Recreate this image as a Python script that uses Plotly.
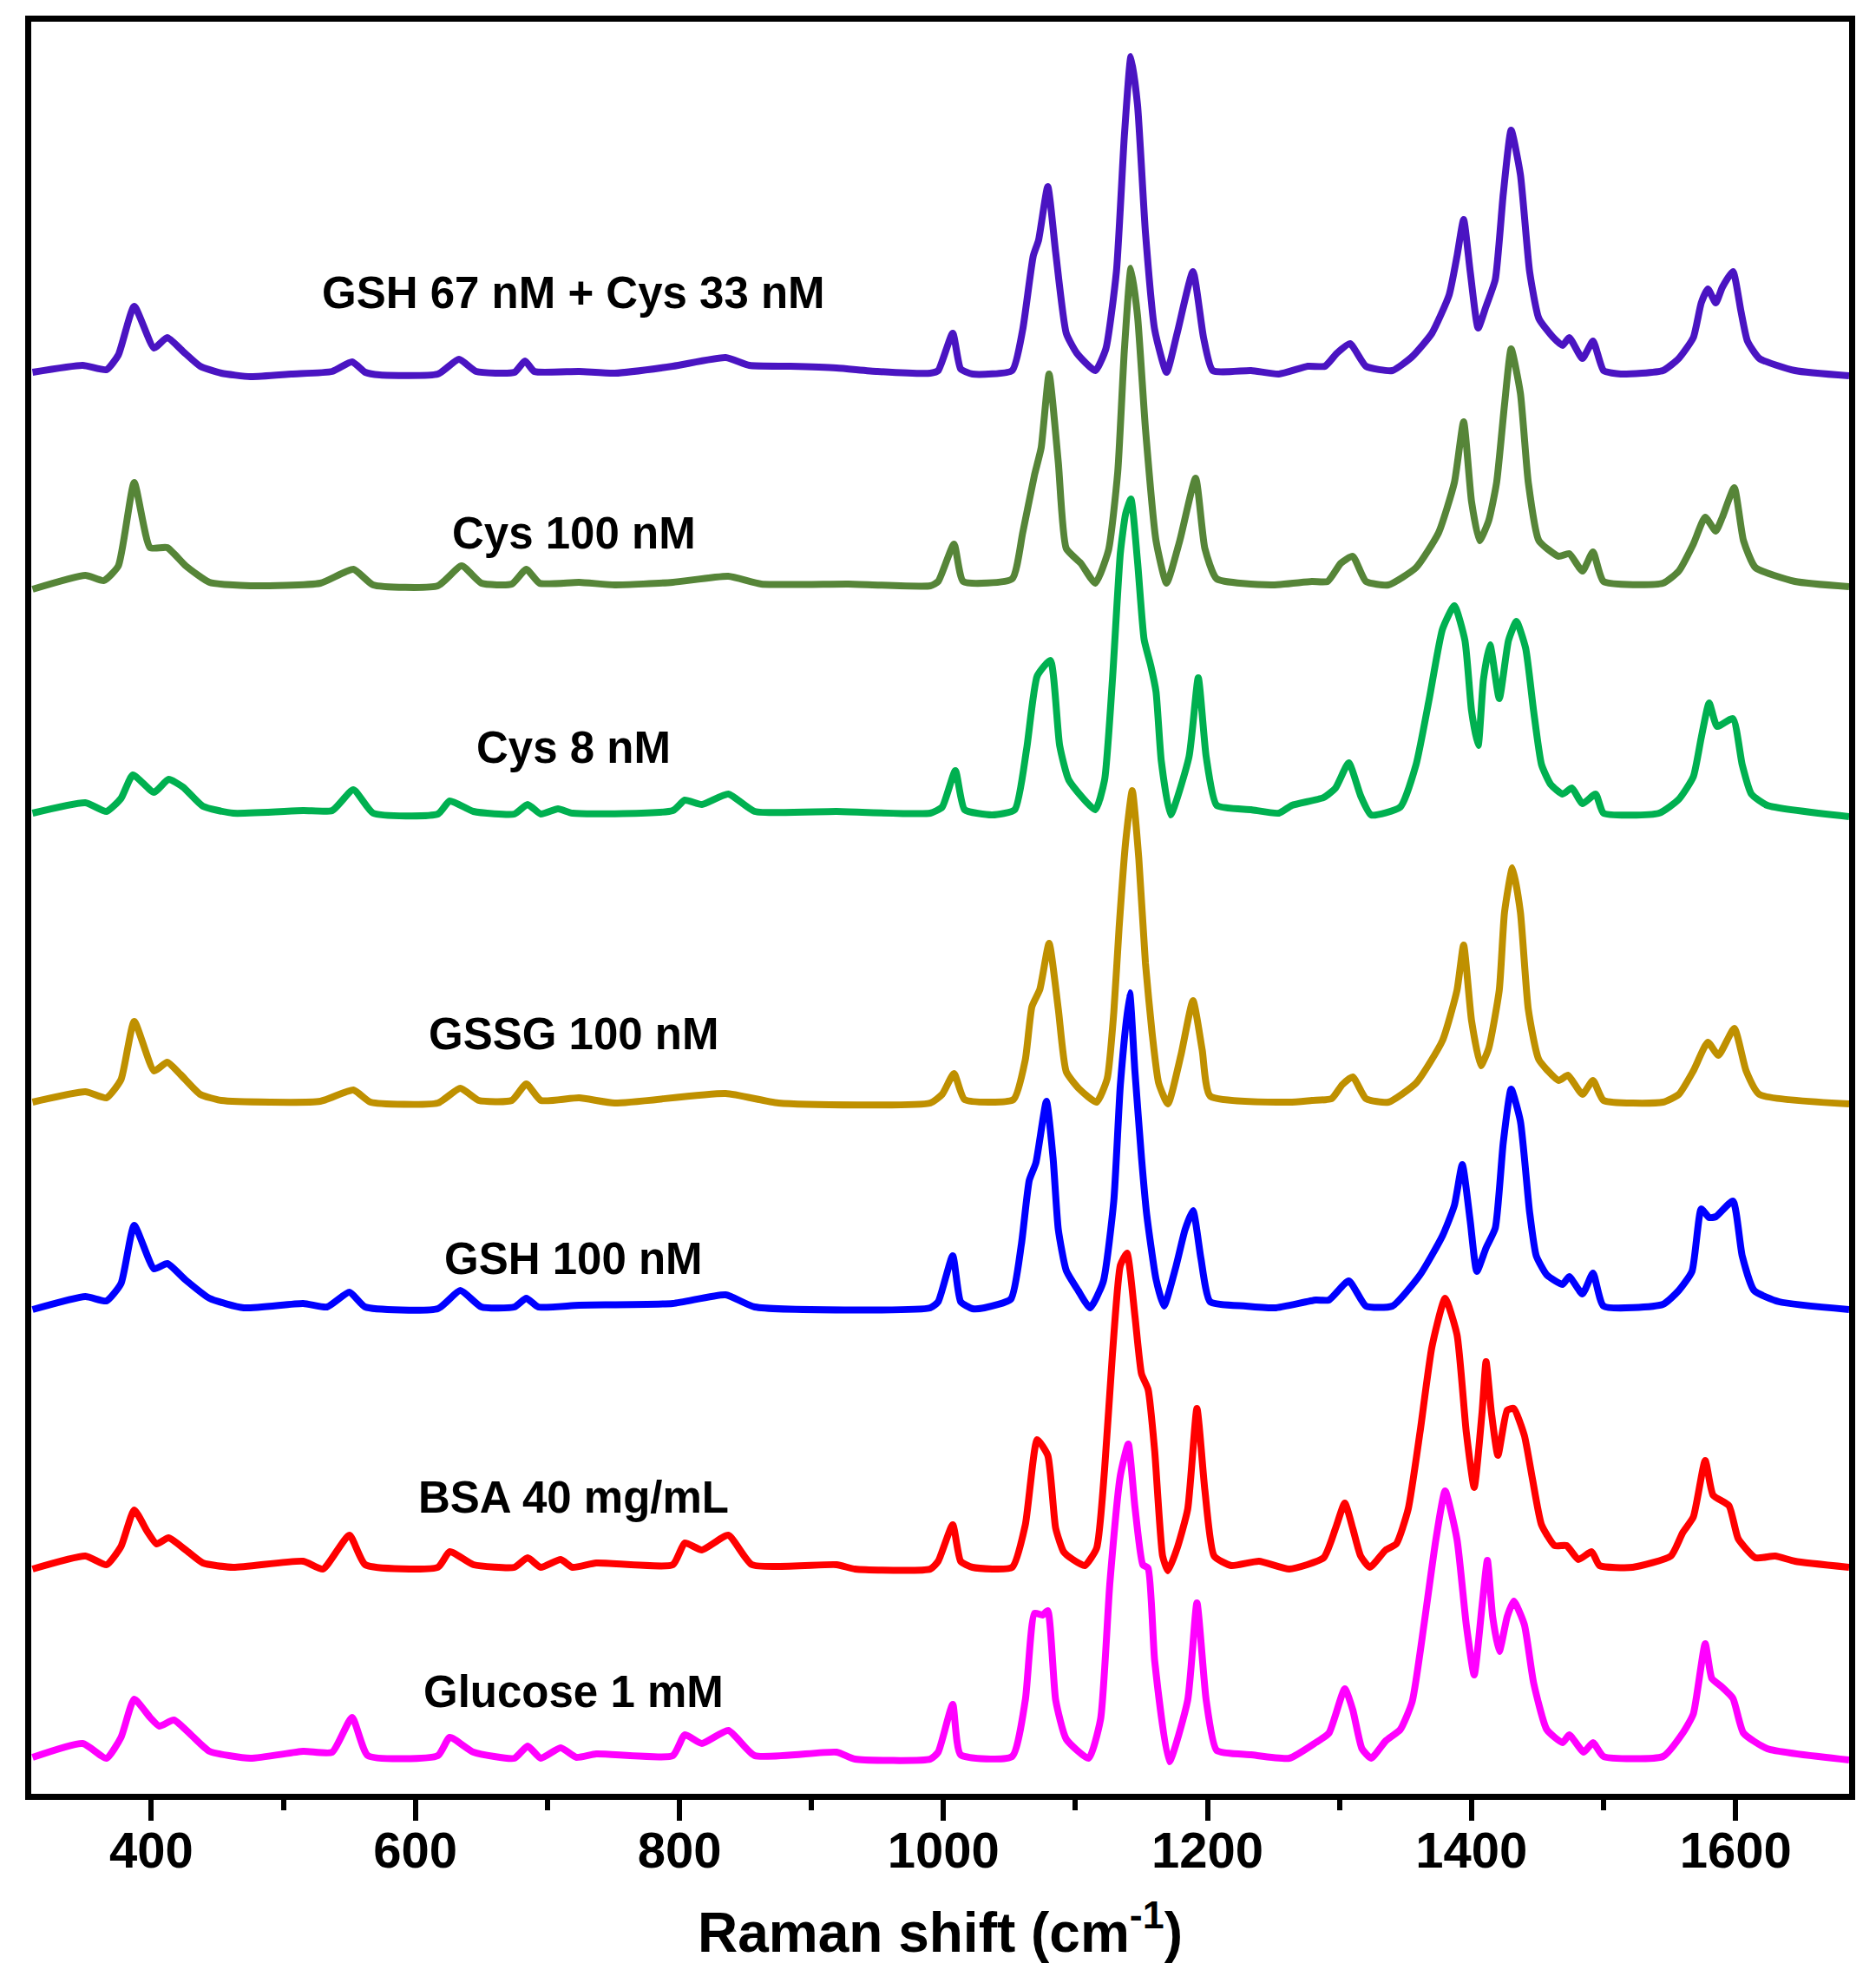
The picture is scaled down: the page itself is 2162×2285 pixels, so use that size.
import plotly.graph_objects as go

# Raman spectra (wavenumber in cm-1, intensity in a.u. above each baseline)
wn_gsh_cys = [310, 348, 366, 375, 387, 402, 412, 424, 437, 453, 475, 506, 537, 552, 562, 573, 617, 633, 646, 675,
              683, 690, 724, 751, 795, 835, 853, 884, 919, 950, 990, 996, 1007, 1013, 1022, 1052, 1060, 1068, 1072, 1079,
              1085, 1093, 1101, 1115, 1123, 1131, 1137, 1142, 1147, 1153, 1160, 1169, 1177, 1189, 1197, 1204, 1233, 1254,
              1276, 1289, 1298, 1308, 1320, 1340, 1355, 1370, 1383, 1389, 1394, 1399, 1405, 1411, 1418, 1424, 1430, 1437,
              1444, 1451, 1462, 1469, 1474, 1484, 1492, 1500, 1513, 1545, 1557, 1568, 1574, 1579, 1585, 1590, 1598, 1604,
              1609, 1618, 1645, 1686]
int_gsh_cys = [0, 8, 3, 20, 76, 28, 40, 24, 7, -1, -5, -2, 1, 12, 0, -3, -2, 15, 1, 0,
               13, 1, 1, -1, 7, 17, 8, 7, 5, 1, -1, 2, 45, 4, -2, 2, 49, 134, 152, 214,
               138, 45, 22, 2, 27, 116, 272, 364, 308, 161, 49, 0, 45, 116, 40, 2, 2, -2,
               7, 7, 22, 33, 7, 2, 18, 45, 89, 134, 176, 116, 51, 76, 107, 205, 279, 228,
               116, 62, 40, 31, 40, 16, 36, 2, -2, 2, 16, 40, 80, 96, 80, 98, 116, 71,
               36, 16, 2, -4]

wn_cys100 = [310, 350, 364, 375, 387, 399, 412, 426, 444, 475, 528, 553, 568, 617, 635, 650, 673, 684, 694, 724,
             751, 795, 837, 862, 928, 990, 996, 1008, 1015, 1052, 1060, 1069, 1074, 1080, 1087, 1093, 1104, 1115, 1125, 1132,
             1137, 1142, 1147, 1153, 1161, 1169, 1179, 1191, 1198, 1207, 1248, 1279, 1291, 1301, 1310, 1320, 1337, 1358,
             1375, 1387, 1394, 1400, 1406, 1413, 1419, 1425, 1430, 1437, 1443, 1451, 1466, 1474, 1484, 1492, 1500, 1545,
             1557, 1568, 1577, 1585, 1590, 1599, 1606, 1615, 1645, 1686]
int_cys100 = [-5, 11, 5, 22, 118, 43, 43, 22, 3, -1, 2, 18, 0, -1, 22, 2, 1, 18, 2, 3,
              0, 3, 10, 1, 1, -1, 4, 47, 4, 7, 60, 127, 158, 243, 141, 42, 25, 2, 40, 130,
              270, 365, 310, 180, 51, 2, 51, 123, 42, 7, 0, 4, 4, 25, 33, 4, 0, 20,
              60, 118, 188, 96, 51, 74, 118, 208, 272, 221, 118, 51, 33, 36, 16, 38, 4, 2,
              16, 47, 78, 62, 78, 112, 51, 20, 4, -2]

wn_cys8 = [310, 350, 366, 377, 386, 402, 413, 424, 439, 462, 515, 537, 553, 568, 617, 626, 644, 675, 685, 695,
           708, 719, 795, 804, 817, 837, 857, 919, 990, 999, 1009, 1016, 1037, 1054, 1063, 1071, 1081, 1088, 1095, 1115,
           1122, 1128, 1134, 1138, 1142, 1147, 1152, 1157, 1161, 1165, 1172, 1186, 1193, 1199, 1207, 1233, 1254, 1264,
           1288, 1297, 1307, 1316, 1324, 1346, 1358, 1368, 1378, 1387, 1395, 1400, 1405, 1409, 1414, 1421, 1428, 1434,
           1441, 1447, 1453, 1460, 1469, 1476, 1484, 1494, 1500, 1542, 1557, 1568, 1574, 1580, 1586, 1598, 1605, 1612,
           1624, 1686]
int_cys8 = [0, 12, 2, 17, 44, 24, 39, 30, 8, 0, 3, 3, 27, 0, -1, 14, 2, -1, 10, -1,
            5, 0, 3, 15, 10, 22, 2, 2, 0, 7, 49, 4, -2, 4, 74, 158, 176, 78, 38, 4,
            38, 154, 300, 345, 362, 290, 200, 170, 140, 60, -2, 65, 156, 65, 9, 4, 0, 9,
            18, 29, 58, 20, -2, 7, 56, 132, 212, 239, 199, 118, 78, 154, 194, 132, 199, 221,
            190, 118, 56, 33, 22, 29, 11, 22, 0, 0, 16, 42, 87, 127, 100, 109, 56, 22,
            9, -4]

wn_gssg = [310, 350, 366, 377, 387, 402, 412, 422, 437, 453, 528, 553, 566, 617, 634, 648, 673, 684, 695, 724,
           751, 835, 875, 990, 999, 1008, 1016, 1053, 1062, 1067, 1073, 1080, 1087, 1093, 1103, 1116, 1124, 1129, 1133,
           1138, 1143, 1148, 1153, 1158, 1163, 1170, 1180, 1189, 1196, 1202, 1262, 1279, 1294, 1302, 1310, 1320, 1337,
           1358, 1378, 1389, 1394, 1400, 1407, 1413, 1421, 1425, 1431, 1437, 1443, 1451, 1466, 1473, 1484, 1492, 1500,
           1545, 1557, 1568, 1579, 1587, 1599, 1608, 1618, 1686]
int_gssg = [0, 12, 5, 26, 93, 36, 46, 32, 9, 2, 1, 14, 0, -1, 16, 2, 2, 21, 2, 5,
            -1, 10, -1, -1, 9, 33, 3, 3, 49, 110, 130, 183, 107, 35, 15, 0, 27, 103, 200,
            300, 359, 280, 160, 80, 22, -2, 55, 117, 60, 7, 0, 2, 4, 20, 29, 4, 0,
            22, 71, 129, 181, 94, 42, 62, 129, 219, 270, 219, 107, 49, 25, 31, 9, 25, 2,
            0, 9, 36, 69, 54, 85, 36, 9, -2]

wn_gsh100 = [310, 350, 366, 377, 387, 402, 412, 426, 444, 470, 515, 533, 550, 562, 617, 634, 650, 675, 684, 693,
             724, 795, 835, 857, 990, 996, 1007, 1013, 1022, 1031, 1051, 1059, 1065, 1070, 1078, 1083, 1087, 1093, 1102,
             1111, 1121, 1129, 1134, 1141, 1145, 1150, 1154, 1161, 1167, 1176, 1183, 1189, 1195, 1202, 1229, 1251, 1282,
             1292, 1307, 1320, 1340, 1361, 1378, 1387, 1393, 1399, 1404, 1411, 1418, 1424, 1430, 1437, 1444, 1449, 1457,
             1469, 1474, 1484, 1492, 1500, 1545, 1557, 1567, 1574, 1580, 1585, 1598, 1605, 1614, 1633, 1686]
int_gsh100 = [-2, 13, 8, 28, 95, 45, 51, 32, 11, 0, 5, 1, 18, 1, -1, 20, 1, 1, 11, 1,
              3, 5, 15, 1, 0, 7, 60, 7, -1, 0, 10, 73, 147, 167, 238, 173, 90, 43, 20,
              0, 30, 123, 257, 363, 273, 173, 107, 33, 2, 47, 90, 112, 57, 7, 2, 0, 9,
              9, 31, 2, 2, 38, 83, 118, 165, 100, 42, 69, 92, 190, 252, 215, 110, 60, 38,
              27, 36, 16, 40, 2, 4, 20, 42, 114, 104, 105, 123, 60, 20, 7, -2]

wn_bsa = [310, 350, 366, 377, 387, 397, 404, 413, 426, 439, 462, 515, 530, 550, 562, 617, 626, 644, 675, 685,
          695, 710, 719, 737, 795, 804, 817, 837, 855, 919, 933, 990, 996, 1007, 1013, 1022, 1052, 1062, 1071, 1079,
          1085, 1091, 1098, 1107, 1116, 1122, 1128, 1134, 1139, 1145, 1150, 1155, 1160, 1166, 1170, 1177, 1185, 1192,
          1198, 1205, 1218, 1239, 1262, 1288, 1297, 1304, 1310, 1316, 1323, 1335, 1343, 1352, 1361, 1370, 1380, 1389,
          1396, 1402, 1408, 1411, 1415, 1420, 1427, 1432, 1440, 1446, 1453, 1463, 1472, 1481, 1491, 1497, 1522, 1551,
          1560, 1568, 1577, 1583, 1595, 1602, 1615, 1630, 1645, 1686]
int_bsa = [-2, 13, 3, 24, 66, 41, 27, 34, 20, 5, 0, 7, -2, 37, 3, 0, 18, 3, 0, 11,
           0, 9, 0, 5, 3, 28, 20, 37, 3, 3, -2, -2, 7, 49, 7, 0, 0, 49, 147, 129,
           45, 18, 9, 2, 22, 112, 246, 348, 362, 290, 223, 205, 134, 13, -4, 22, 67, 183,
           89, 13, 2, 7, -2, 11, 45, 74, 45, 13, 0, 20, 27, 67, 156, 254, 310, 268,
           156, 92, 179, 237, 179, 129, 181, 183, 152, 103, 49, 25, 25, 9, 18, 2, 0, 13,
           40, 58, 123, 83, 71, 33, 11, 13, 7, 0]

wn_glucose = [310, 348, 366, 377, 387, 399, 406, 417, 430, 444, 475, 515, 537, 552, 564, 617, 626, 644, 675, 685,
              695, 710, 722, 737, 795, 804, 817, 837, 857, 919, 933, 990, 996, 1007, 1013, 1052, 1062, 1069, 1075, 1079,
              1085, 1093, 1110, 1119, 1126, 1134, 1140, 1145, 1151, 1155, 1160, 1171, 1185, 1192, 1199, 1207, 1233, 1262,
              1282, 1292, 1304, 1310, 1317, 1324, 1335, 1346, 1355, 1364, 1373, 1380, 1389, 1396, 1402, 1408, 1412, 1416,
              1421, 1427, 1432, 1440, 1447, 1457, 1469, 1474, 1485, 1492, 1500, 1545, 1560, 1568, 1577, 1582, 1589, 1598,
              1606, 1624, 1686]
int_glucose = [1, 17, 0, 24, 68, 47, 37, 44, 27, 8, 0, 8, 7, 47, 3, 3, 24, 7, 0, 14,
               0, 12, 1, 5, 3, 27, 17, 32, 3, 7, -1, -1, 7, 62, 4, 2, 67, 167, 165, 170,
               67, 22, 0, 45, 201, 326, 362, 290, 223, 219, 112, -4, 67, 179, 67, 9, 4, 0,
               18, 29, 80, 56, 11, 0, 20, 33, 65, 154, 252, 308, 252, 154, 96, 176, 228, 163,
               123, 163, 181, 154, 87, 33, 18, 27, 7, 18, 2, 2, 29, 51, 132, 92, 83, 69,
               29, 11, -2]

labels = ["GSH 67 nM + Cys 33 nM", "Cys 100 nM", "Cys 8 nM", "GSSG 100 nM",
          "GSH 100 nM", "BSA 40 mg/mL", "Glucose 1 mM"]
offsets = [1638, 1393, 1130, 797, 560, 261, 41]
label_y = [1730, 1453, 1206, 876, 617, 342, 118]
colors = ["#4A14C2", "#568538", "#00B050", "#BF9000", "#0000FF", "#FF0000", "#FF00FF"]

spectra = [(wn_gsh_cys, int_gsh_cys), (wn_cys100, int_cys100), (wn_cys8, int_cys8), (wn_gssg, int_gssg),
           (wn_gsh100, int_gsh100), (wn_bsa, int_bsa), (wn_glucose, int_glucose)]

FONT = "Liberation Sans, Arial, sans-serif"

fig = go.Figure()

for (wn, inten), off, col, name in zip(spectra, offsets, colors, labels):
    fig.add_trace(go.Scatter(x=wn, y=[v + off for v in inten], mode="lines", name=name,
                             line=dict(color=col, width=8, shape="spline", smoothing=0.5),
                             showlegend=False))

for name, ly in zip(labels, label_y):
    fig.add_annotation(x=720, y=ly, text=name, showarrow=False,
                       font=dict(family=FONT, size=51, color="black", weight="bold"))

fig.update_xaxes(range=[309, 1686], tick0=400, dtick=200, ticks="outside", ticklen=24, tickwidth=6,
                 tickcolor="black", showline=True, linewidth=7, linecolor="black", mirror=True,
                 showgrid=False, zeroline=False, ticklabelstandoff=-16,
                 minor=dict(dtick=100, ticks="outside", ticklen=12, tickwidth=6, tickcolor="black"),
                 tickfont=dict(family=FONT, size=58, color="black", weight="bold"),
                 title=dict(text="Raman shift (cm<sup>-1</sup>)", standoff=44,
                            font=dict(family=FONT, size=64, color="black", weight="bold")))
fig.update_yaxes(range=[0, 2042], showticklabels=False, ticks="", showline=True, linewidth=7,
                 linecolor="black", mirror=True, showgrid=False, zeroline=False)

fig.update_layout(width=2162, height=2285, margin=dict(l=36, r=31, t=25, b=218),
                  plot_bgcolor="white", paper_bgcolor="white")

# the page body has a default 8px margin; drop it so the figure sits at the window corner
fig.write_html("out.html", config={"displayModeBar": False},
               post_script="document.body.style.margin = '0px';")
